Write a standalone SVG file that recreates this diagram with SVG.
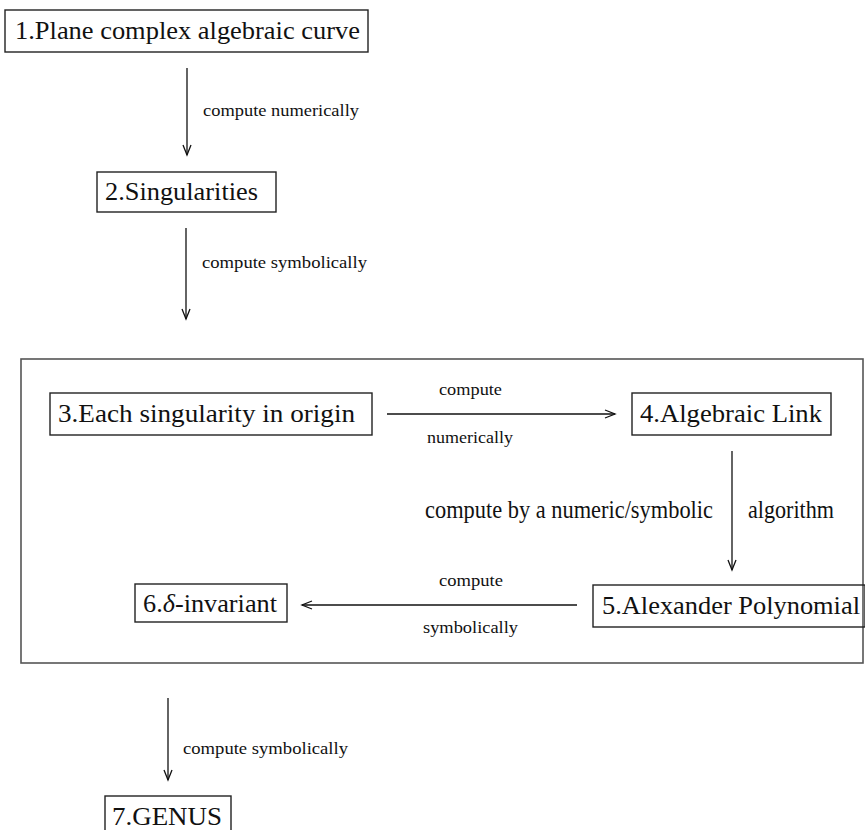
<svg xmlns="http://www.w3.org/2000/svg" width="865" height="830" viewBox="0 0 865 830">
<style>
text{font-family:"Liberation Serif","Times New Roman",serif;fill:#111}
.n{font-size:25px}
.l{font-size:17px}
.box{fill:none;stroke:#222;stroke-width:1.4}
.frame{fill:none;stroke:#555;stroke-width:1.6}
.edge{stroke:#111;stroke-width:1.3;fill:none}
.head{stroke:#111;stroke-width:1.3;fill:none}
</style>
<rect width="865" height="830" fill="#fff"/>
<g id="frame"><rect class="frame" x="21" y="359" width="842" height="304"/></g>
<g id="n1"><rect class="box" x="5" y="10" width="363" height="42"/><text class="n" x="15" y="39" textLength="345" lengthAdjust="spacingAndGlyphs">1.Plane complex algebraic curve</text></g>
<g id="n2"><rect class="box" x="97" y="172" width="179" height="40"/><text class="n" x="105" y="200" textLength="153" lengthAdjust="spacingAndGlyphs">2.Singularities</text></g>
<g id="n3"><rect class="box" x="50" y="393" width="322" height="42"/><text class="n" x="58" y="422" textLength="297" lengthAdjust="spacingAndGlyphs">3.Each singularity in origin</text></g>
<g id="n4"><rect class="box" x="632" y="393" width="199" height="42"/><text class="n" x="640" y="422" textLength="182" lengthAdjust="spacingAndGlyphs">4.Algebraic Link</text></g>
<g id="n5"><rect class="box" x="593" y="585" width="272" height="42"/><text class="n" x="602" y="614" textLength="258" lengthAdjust="spacingAndGlyphs">5.Alexander Polynomial</text></g>
<g id="n6"><rect class="box" x="135" y="584" width="152" height="38"/><text class="n" x="143" y="612" textLength="134" lengthAdjust="spacingAndGlyphs">6.<tspan font-style="italic">δ</tspan>-invariant</text></g>
<g id="n7"><rect class="box" x="105" y="796" width="126" height="44"/><text class="n" x="112" y="825" textLength="110" lengthAdjust="spacingAndGlyphs">7.GENUS</text></g>
<g id="connectors">
<line class="edge" x1="187" y1="68" x2="187" y2="155"/><polyline class="head" points="183,145 187,155 191,145"/>
<line class="edge" x1="186" y1="228" x2="186" y2="319"/><polyline class="head" points="182,309 186,319 190,309"/>
<line class="edge" x1="387" y1="414" x2="615" y2="414"/><polyline class="head" points="605,410 615,414 605,418"/>
<line class="edge" x1="732" y1="451" x2="732" y2="570"/><polyline class="head" points="728,560 732,570 736,560"/>
<line class="edge" x1="577" y1="605" x2="302" y2="605"/><polyline class="head" points="312,601 302,605 312,609"/>
<line class="edge" x1="168" y1="698" x2="168" y2="780"/><polyline class="head" points="164,770 168,780 172,770"/>
</g>
<g id="labels">
<text class="l" x="203" y="116" textLength="156" lengthAdjust="spacingAndGlyphs">compute numerically</text>
<text class="l" x="202" y="268" textLength="165" lengthAdjust="spacingAndGlyphs">compute symbolically</text>
<text class="l" x="439" y="395" textLength="63" lengthAdjust="spacingAndGlyphs">compute</text>
<text class="l" x="427" y="443" textLength="86" lengthAdjust="spacingAndGlyphs">numerically</text>
<text class="n" x="425" y="518" textLength="288" lengthAdjust="spacingAndGlyphs">compute by a numeric/symbolic</text>
<text class="n" x="748" y="518" textLength="86" lengthAdjust="spacingAndGlyphs">algorithm</text>
<text class="l" x="439" y="586" textLength="64" lengthAdjust="spacingAndGlyphs">compute</text>
<text class="l" x="423" y="633" textLength="95" lengthAdjust="spacingAndGlyphs">symbolically</text>
<text class="l" x="183" y="754" textLength="165" lengthAdjust="spacingAndGlyphs">compute symbolically</text>
</g>
</svg>
